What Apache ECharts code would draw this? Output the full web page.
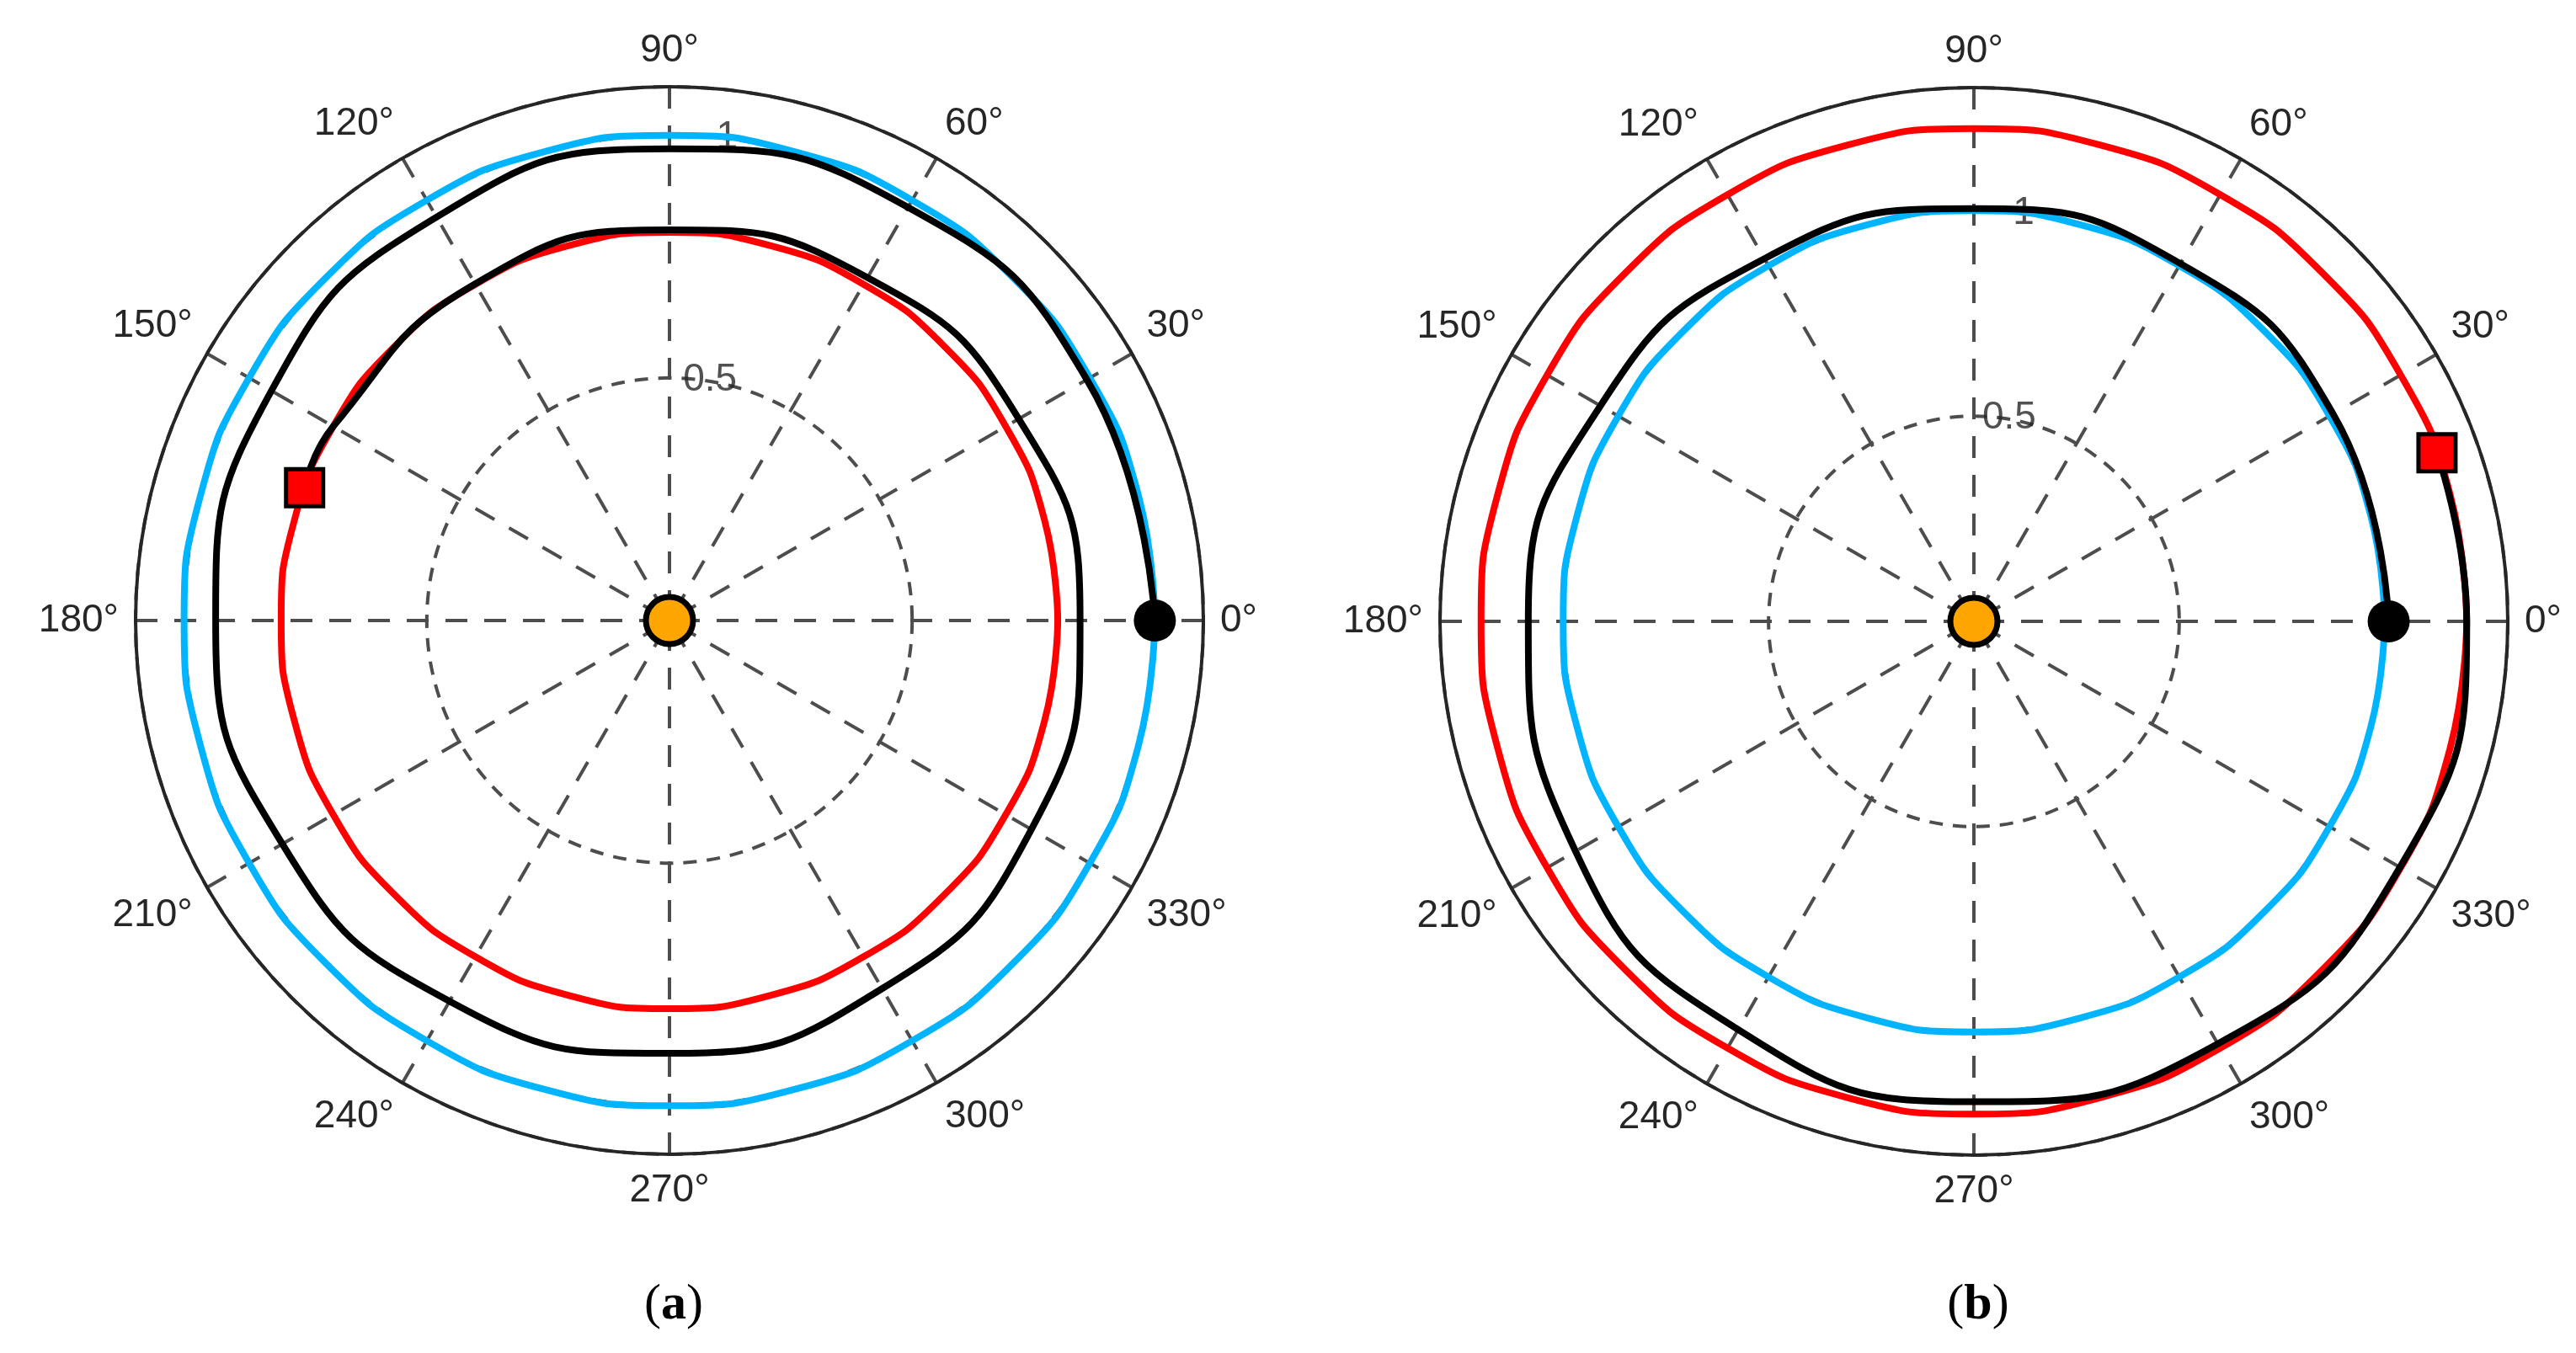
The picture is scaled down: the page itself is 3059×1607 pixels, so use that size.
<!DOCTYPE html>
<html>
<head>
<meta charset="utf-8">
<script src="https://cdn.jsdelivr.net/npm/echarts@6/dist/echarts.min.js"></script>
<style>
  html, body { margin: 0; padding: 0; background: #fff; }
  #chart { width: 3059px; height: 1607px; }
</style>
</head>
<body>
<div id="chart"></div>
<script>
// angles in degrees, radii in AU-like units
const circleAngles = [0, 15, 30, 45, 60, 75, 90, 105, 120, 135, 150, 165, 180, 195, 210, 225, 240, 255, 270, 285, 300, 315, 330, 345, 360];

// panel (a)
const aOuterR = 1.0;   // blue orbit
const aInnerR = 0.8;   // red orbit
const aSpiralAngles = [0, 30, 60, 90, 120, 150, 180, 210, 240, 270, 300, 330, 360, 390, 420, 450, 480, 510, 520];
const aSpiralR = [1.0, 0.993, 0.983, 0.972, 0.96, 0.947, 0.935, 0.921, 0.906, 0.892, 0.876, 0.861, 0.846, 0.831, 0.816, 0.805, 0.801, 0.8, 0.8];
const aStart = [1.0, 0];
const aEnd = [0.8, 520];

// panel (b)
const bInnerR = 1.0;   // blue orbit
const bOuterR = 1.2;   // red orbit
const bSpiralAngles = [0, 30, 60, 90, 120, 150, 180, 210, 240, 270, 300, 330, 360, 380];
const bSpiralR = [1.01, 1.01, 1.006, 1.005, 1.02, 1.05, 1.085, 1.12, 1.148, 1.17, 1.188, 1.198, 1.2, 1.2];
const bStart = [1.01, 0];
const bEnd = [1.2, 380];

const radiusMax = [1.1, 1.3];
const radiusLabels = ['0.5', '1'];
const captions = ['a', 'b'];

const FONT = 'Liberation Sans';
const orbitBlue = '#00b4ff';
const orbitRed = '#ff0000';

function circle(r) { return circleAngles.map(a => [r, a]); }
function spiral(angles, rs) { return angles.map((a, i) => [rs[i], a % 360]); }
function wrap(p) { return [p[0], p[1] % 360]; }

const centers = [[795, 737], [2344, 738]];

const polar = centers.map(c => ({ center: c, radius: 634 }));
const angleAxis = centers.map((c, i) => ({
  polarIndex: i, type: 'value', min: 0, max: 360, interval: 30, startAngle: 0, clockwise: false,
  axisLine: { show: true, lineStyle: { color: '#262626', width: 4 } },
  axisTick: { show: false },
  axisLabel: {
    margin: 20, fontFamily: FONT, fontSize: 46, color: '#262626',
    formatter: v => v === 360 ? '' : v + '°'
  },
  splitLine: { show: true, lineStyle: { color: '#4d4d4d', width: 4, type: [26, 20] } }
}));
const radiusAxis = centers.map((c, i) => ({
  polarIndex: i, type: 'value', min: 0, max: radiusMax[i], interval: 0.5,
  axisLine: { show: false }, axisTick: { show: false }, axisLabel: { show: false },
  splitLine: { show: true, lineStyle: { color: '#4d4d4d', width: 4, type: [16, 12] } }
}));

function line(pi, data, color, width, z) {
  return { type: 'line', coordinateSystem: 'polar', polarIndex: pi, data: data, smooth: true,
    showSymbol: false, lineStyle: { color: color, width: width }, z: z, silent: true, animation: false };
}
function marker(pi, p, symbol, size, color, border) {
  return { type: 'scatter', coordinateSystem: 'polar', polarIndex: pi, data: [wrap(p)], symbol: symbol,
    symbolSize: size, itemStyle: { color: color, borderColor: '#000', borderWidth: border, opacity: 1 }, z: 10, animation: false };
}
function rLabels(pi) {
  return { type: 'scatter', coordinateSystem: 'polar', polarIndex: pi, symbolSize: 0,
    data: [[0.5, 82], [1.0, 84]].map((p, i) => ({ value: p, label: { formatter: radiusLabels[i] } })),
    label: { show: true, position: 'inside', fontFamily: FONT, fontSize: 46, color: '#262626', offset: [8, 0] },
    z: 3, animation: false };
}

const series = [
  line(0, circle(aOuterR), orbitBlue, 8, 4),
  line(0, circle(aInnerR), orbitRed, 8, 4),
  line(0, spiral(aSpiralAngles, aSpiralR), '#000', 8, 5),
  rLabels(0),
  marker(0, aStart, 'circle', 50, '#000', 0),
  marker(0, aEnd, 'rect', 44, '#ff0000', 5),
  marker(0, [0, 0], 'circle', 56, '#ffa500', 7),
  line(1, circle(bOuterR), orbitRed, 8, 4),
  line(1, circle(bInnerR), orbitBlue, 8, 4),
  line(1, spiral(bSpiralAngles, bSpiralR), '#000', 8, 5),
  rLabels(1),
  marker(1, bStart, 'circle', 50, '#000', 0),
  marker(1, bEnd, 'rect', 44, '#ff0000', 5),
  marker(1, [0, 0], 'circle', 56, '#ffa500', 7)
];

const title = captions.map((c, i) => ({
  text: '({b|' + c + '})', left: centers[i][0], top: 1515, textAlign: 'center',
  textStyle: { fontFamily: 'Liberation Serif', fontSize: 60, fontWeight: 'normal', color: '#000',
    rich: { b: { fontFamily: 'Liberation Serif', fontSize: 60, fontWeight: 'bold', color: '#000' } } }
}));

const chart = echarts.init(document.getElementById('chart'));
chart.setOption({
  backgroundColor: '#fff',
  animation: false,
  title: title,
  polar: polar,
  angleAxis: angleAxis,
  radiusAxis: radiusAxis,
  series: series
});
</script>
</body>
</html>
